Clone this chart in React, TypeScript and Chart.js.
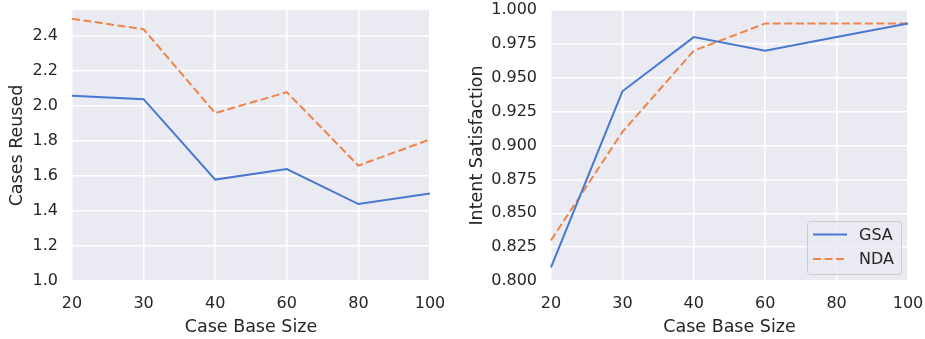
import React, { useEffect, useRef } from 'react';
import { Chart, registerables } from 'chart.js';
Chart.register(...registerables);

const caseBaseSizes = ['20', '30', '40', '60', '80', '100'];
const seriesNames = ['GSA', 'NDA'];
const gsaReused = [2.06, 2.04, 1.58, 1.64, 1.44, 1.5];
const ndaReused = [2.5, 2.44, 1.96, 2.08, 1.66, 1.81];
const gsaIntent = [0.81, 0.94, 0.98, 0.97, 0.98, 0.99];
const ndaIntent = [0.83, 0.91, 0.97, 0.99, 0.99, 0.99];
const reusedTicks = [1.0, 1.2, 1.4, 1.6, 1.8, 2.0, 2.2, 2.4];
const intentTicks = [0.8, 0.825, 0.85, 0.875, 0.9, 0.925, 0.95, 0.975, 1.0];

const BLUE = '#4878D0';
const ORANGE = '#EE854A';
const TEXT = '#262626';
const FACE = '#EAEAF2';
const DASH = [8, 3.5];
const FONT = "'DejaVu Sans', sans-serif";

const bgPlugin = {
  id: 'bg',
  beforeDraw(chart: any) {
    const { ctx, chartArea: a } = chart;
    ctx.save();
    ctx.fillStyle = FACE;
    ctx.fillRect(a.left, a.top, a.right - a.left, a.bottom - a.top);
    ctx.restore();
  },
};

const legendPlugin = {
  id: 'innerLegend',
  afterDraw(chart: any) {
    const { ctx, chartArea: a } = chart;
    const w = 94, h = 53;
    const x = a.right - 7 - w;
    const y = a.bottom - 7 - h;
    ctx.save();
    ctx.beginPath();
    ctx.roundRect(x + 0.5, y + 0.5, w, h, 3);
    ctx.fillStyle = 'rgba(234,234,242,0.8)';
    ctx.fill();
    ctx.strokeStyle = '#cccccc';
    ctx.lineWidth = 1;
    ctx.stroke();
    chart.data.datasets.forEach((ds: any, i: number) => {
      const cy = y + 13.5 + i * 24.5;
      ctx.beginPath();
      ctx.setLineDash(ds.borderDash || []);
      ctx.strokeStyle = ds.borderColor;
      ctx.lineWidth = 2;
      ctx.moveTo(x + 6, cy);
      ctx.lineTo(x + 40, cy);
      ctx.stroke();
      ctx.setLineDash([]);
      ctx.fillStyle = TEXT;
      ctx.font = `16px ${FONT}`;
      ctx.textBaseline = 'middle';
      ctx.textAlign = 'left';
      ctx.fillText(ds.label, x + 52, cy + 1);
    });
    ctx.restore();
  },
};

function makeConfig(a: number[], b: number[], ticks: number[], yMin: number, yMax: number, digits: number, title: string, yWidth: number, padRight: number, legend: boolean): any {
  return {
    type: 'line',
    data: {
      labels: caseBaseSizes,
      datasets: [
        { label: seriesNames[0], data: a, borderColor: BLUE, borderWidth: 2, pointRadius: 0, tension: 0, fill: false },
        { label: seriesNames[1], data: b, borderColor: ORANGE, borderWidth: 2, borderDash: DASH, pointRadius: 0, tension: 0, fill: false },
      ],
    },
    options: {
      responsive: false,
      animation: false,
      devicePixelRatio: 1,
      layout: { padding: { top: 10, right: padRight, left: 0, bottom: 0 } },
      plugins: { legend: { display: false }, tooltip: { enabled: false } },
      scales: {
        x: {
          type: 'category',
          offset: false,
          grid: { color: '#ffffff', lineWidth: 1.5, drawTicks: false },
          border: { display: false },
          ticks: { color: TEXT, font: { size: 16, family: FONT }, padding: 13, maxRotation: 0, autoSkip: false },
          title: { display: true, text: 'Case Base Size', color: TEXT, font: { size: 17.5, family: FONT }, padding: { top: 0, bottom: 1 } },
          afterFit: (s: any) => { s.height = 58; s.paddingLeft = 0; s.paddingRight = 0; s.paddingTop = 0; s.paddingBottom = 0; },
        },
        y: {
          min: yMin,
          max: yMax,
          grid: { color: '#ffffff', lineWidth: 1.5, drawTicks: false },
          border: { display: false },
          afterBuildTicks: (s: any) => { s.ticks = ticks.map((v) => ({ value: v })); },
          ticks: { color: TEXT, font: { size: 16, family: FONT }, padding: 14, callback: (v: any) => Number(v).toFixed(digits) },
          title: { display: true, text: title, color: TEXT, font: { size: 17.5, family: FONT }, padding: { top: 7, bottom: 0 } },
          afterFit: (s: any) => { s.width = yWidth; s.paddingLeft = 0; s.paddingRight = 0; s.paddingTop = 0; s.paddingBottom = 0; },
        },
      },
    },
    plugins: legend ? [bgPlugin, legendPlugin] : [bgPlugin],
  };
}

function ChartCanvas({ config, left, width }: { config: any; left: number; width: number }) {
  const ref = useRef<HTMLCanvasElement>(null);
  useEffect(() => {
    const chart = new Chart(ref.current as HTMLCanvasElement, config);
    return () => chart.destroy();
  }, [config]);
  return (
    <canvas ref={ref} width={width} height={339} style={{ position: 'absolute', left, top: 0, width, height: 339 }} />
  );
}

const leftConfig = makeConfig(gsaReused, ndaReused, reusedTicks, 1.0, 2.55, 1, 'Cases Reused', 72, 30, false);
const rightConfig = makeConfig(gsaIntent, ndaIntent, intentTicks, 0.8, 1.0, 3, 'Intent Satisfaction', 91, 17, true);

export default function App() {
  return (
    <div style={{ position: 'fixed', left: 0, top: 0, width: 925, height: 339, background: '#ffffff' }}>
      <ChartCanvas config={leftConfig} left={0} width={460} />
      <ChartCanvas config={rightConfig} left={460} width={465} />
    </div>
  );
}
